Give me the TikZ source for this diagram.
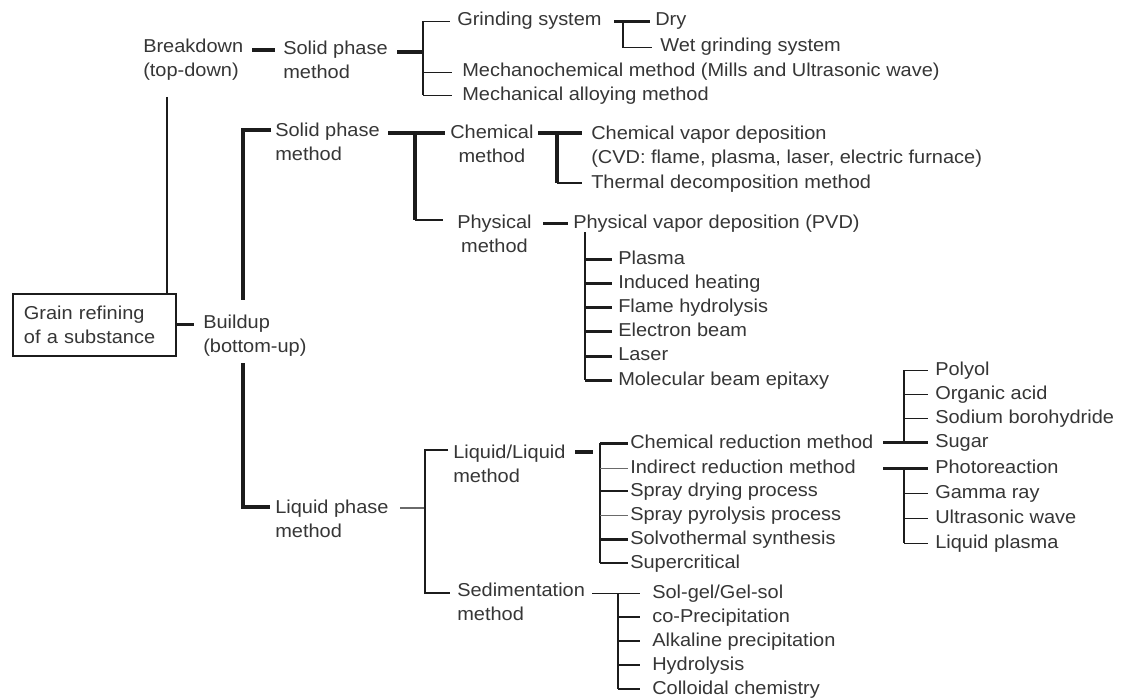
\documentclass[tikz,border=0pt]{standalone}
\usepackage{fontspec}
\newfontfamily\lbfont[FakeStretch=1.07]{Liberation Sans}
\definecolor{txt}{HTML}{363636}
\definecolor{ln}{HTML}{1C1C1C}
\definecolor{lg}{HTML}{6A6A6A}
\begin{document}
\begin{tikzpicture}[x=0.75pt,y=-0.75pt,
  lbl/.style={font=\lbfont\fontsize{14}{18}\selectfont, text=txt, inner sep=0pt, text height=10pt, text depth=3pt, anchor=base west},
  ml/.style={font=\lbfont\fontsize{14}{18}\selectfont, text=txt, inner sep=0pt, align=left, anchor=north west},
  mlc/.style={ml, align=center},
  thn/.style={draw=ln, line width=1.1pt},
  mid/.style={draw=ln, line width=1.5pt},
  thk/.style={draw=ln, line width=2.3pt},
  vthk/.style={draw=ln, line width=2.9pt},
  gry/.style={draw=lg, line width=1.1pt},
]
\useasboundingbox[fill=white] (0,0) rectangle (1124,699);

% ---------------- top-down branch
\node[ml] (brk) at (143,39) {Breakdown\\(top-down)};
\node[ml] (sp1) at (283,41) {Solid phase\\method};
\node[lbl] (grind) at (457,26) {Grinding system};
\node[lbl] (dry) at (655,26) {Dry};
\node[lbl] (wet) at (660,52) {Wet grinding system};
\node[lbl] (mchem) at (462,77) {Mechanochemical method (Mills and Ultrasonic wave)};
\node[lbl] (malloy) at (462,100) {Mechanical alloying method};

\coordinate (j1a) at (252,50);
\coordinate (j1b) at (275,50);
\draw[thk] (j1a) -- (j1b);
\coordinate (j2a) at (397,52);
\coordinate (v1) at (423,52);
\draw[thk] (j2a) -- (v1);
\draw[mid] (v1 |- grind.west) -- (v1 |- malloy.west);
\draw[thn] (v1 |- grind.west) -- ([xshift=-5pt]grind.west);
\draw[thn] (v1 |- mchem.west) -- ([xshift=-7.5pt]mchem.west);
\draw[thn] (v1 |- malloy.west) -- ([xshift=-7.5pt]malloy.west);
\coordinate (g1) at (614,0);
\coordinate (v2) at (623,0);
\draw[thk] (g1 |- dry.west) -- ([xshift=-3.5pt]dry.west);
\draw[thn] (v2 |- dry.west) -- (v2 |- wet.west) -- ([xshift=-6pt]wet.west);

% ---------------- root
\node[draw=ln, line width=1.4pt, rectangle, anchor=north west, align=left,
      font=\lbfont\fontsize{14}{18}\selectfont, text=txt,
      text width=105.75pt, inner xsep=8.25pt, inner ysep=0pt,
      minimum height=46.5pt] (root) at (12,293) {Grain refining\\of a substance};
\coordinate (bv) at (167,97);
\draw[thn] (bv) -- (bv |- root.north);

\node[ml] (bu) at (203,315) {Buildup\\(bottom-up)};
\draw[thk] (root.east) -- ++(17,0);

% main buildup spine
\coordinate (mtop) at (243,130);
\coordinate (mgap1) at (243,300);
\coordinate (mgap2) at (243,363);
\coordinate (mbot) at (243,507);
\node[ml] (sp2) at (275,123) {Solid phase\\method};
\node[ml] (liq) at (275,500) {Liquid phase\\method};
\draw[vthk] (271,130) -- (mtop) -- (mgap1);
\draw[vthk] (mgap2) -- (mbot) -- (270,507);

% ---------------- solid phase (buildup)
\node[mlc] (chem) at (450,125) {Chemical\\method};
\node[mlc] (phys) at (457,215) {Physical\\method};
\coordinate (s2a) at (388,133);
\coordinate (s2v) at (415,133);
\coordinate (s2b) at (445,133);
\coordinate (s2c) at (415,220);
\coordinate (s2d) at (443,220);
\draw[thk] (s2a) -- (s2b);
\draw[vthk] (s2v) -- (s2c);
\draw[mid] (s2c) -- (s2d);

\node[ml] (cvd) at (591,126) {Chemical vapor deposition\\(CVD: flame, plasma, laser, electric furnace)};
\node[lbl] (thermal) at (591,188) {Thermal decomposition method};
\coordinate (c2a) at (538,133);
\coordinate (c2v) at (557,133);
\coordinate (c2b) at (582,133);
\draw[vthk] (c2a) -- (c2b);
\draw[vthk] (c2v) -- (c2v |- thermal.west);
\draw[mid] (c2v |- thermal.west) -- ([xshift=-6.5pt]thermal.west);

\node[lbl] (pvd) at (573,228) {Physical vapor deposition (PVD)};
\coordinate (p1) at (543,0);
\draw[thk] (p1 |- pvd.west) -- ([xshift=-3.5pt]pvd.west);
\node[lbl] (plasma) at (618,264) {Plasma};
\node[lbl] (induced) at (618,288.2) {Induced heating};
\node[lbl] (flame) at (618,312.4) {Flame hydrolysis};
\node[lbl] (ebeam) at (618,336.6) {Electron beam};
\node[lbl] (laser) at (618,360.8) {Laser};
\node[lbl] (mbe) at (618,385) {Molecular beam epitaxy};
\coordinate (v3) at (585,232);
\draw[mid] (v3) -- (v3 |- mbe.west);
\foreach \n in {plasma,induced,flame,ebeam,laser,mbe}
  \draw[thk] (v3 |- \n.west) -- ([xshift=-4.5pt]\n.west);

% ---------------- liquid phase
\node[ml] (ll) at (453,445) {Liquid/Liquid\\method};
\node[ml] (sed) at (457,583) {Sedimentation\\method};
\coordinate (l1a) at (400,508);
\coordinate (l1v) at (425,508);
\draw[gry] (l1a) -- (l1v);
\draw[mid] (448,450) -- (425,450) -- (425,593) -- (450,593);

\node[lbl] (cr) at (630,448) {Chemical reduction method};
\node[lbl] (ir) at (630,473) {Indirect reduction method};
\node[lbl] (sd) at (630,496) {Spray drying process};
\node[lbl] (spp) at (630,520) {Spray pyrolysis process};
\node[lbl] (sv) at (630,544) {Solvothermal synthesis};
\node[lbl] (sc) at (630,568) {Supercritical};
\coordinate (lla) at (575,452);
\coordinate (llb) at (593,452);
\draw[thk] (lla) -- (llb);
\coordinate (v4) at (600,0);
\draw[mid] (v4 |- cr.west) -- (v4 |- sc.west);
\draw[thk] (v4 |- cr.west) -- ([xshift=-1.5pt]cr.west);
\draw[gry] (v4 |- ir.west) -- ([xshift=-1.5pt]ir.west);
\draw[mid] (v4 |- sd.west) -- ([xshift=-1.5pt]sd.west);
\draw[gry] (v4 |- spp.west) -- ([xshift=-1.5pt]spp.west);
\draw[thk] (v4 |- sv.west) -- ([xshift=-1.5pt]sv.west);
\draw[mid] (v4 |- sc.west) -- ([xshift=-1.5pt]sc.west);

\node[lbl] (polyol) at (935,375) {Polyol};
\node[lbl] (orga) at (935,399) {Organic acid};
\node[lbl] (sodium) at (935,423) {Sodium borohydride};
\node[lbl] (sugar) at (935,447) {Sugar};
\node[lbl] (photo) at (935,473) {Photoreaction};
\node[lbl] (gamma) at (935,498) {Gamma ray};
\node[lbl] (ultra) at (935,523) {Ultrasonic wave};
\node[lbl] (lplasma) at (935,548) {Liquid plasma};
\coordinate (c1) at (883,0);
\coordinate (v5) at (904,0);
\draw[thk] (c1 |- sugar.west) -- ([xshift=-5pt]sugar.west);
\draw[mid] (v5 |- polyol.west) -- (v5 |- sugar.west);
\foreach \n in {polyol,orga,sodium}
  \draw[thn] (v5 |- \n.west) -- ([xshift=-5pt]\n.west);
\draw[thk] (c1 |- photo.west) -- ([xshift=-5pt]photo.west);
\draw[mid] (v5 |- photo.west) -- (v5 |- lplasma.west);
\foreach \n in {gamma,ultra,lplasma}
  \draw[thn] (v5 |- \n.west) -- ([xshift=-5pt]\n.west);

\node[lbl] (solgel) at (652,598) {Sol-gel/Gel-sol};
\node[lbl] (copre) at (652,622) {co-Precipitation};
\node[lbl] (alk) at (652,646) {Alkaline precipitation};
\node[lbl] (hydro) at (652,670) {Hydrolysis};
\node[lbl] (coll) at (652,694) {Colloidal chemistry};
\coordinate (sa) at (592,0);
\coordinate (v6) at (618,0);
\draw[thn] (sa |- solgel.west) -- ([xshift=-9pt]solgel.west);
\draw[mid] (v6 |- solgel.west) -- (v6 |- coll.west);
\foreach \n in {copre,alk,hydro,coll}
  \draw[mid] (v6 |- \n.west) -- ([xshift=-9pt]\n.west);
\end{tikzpicture}
\end{document}
